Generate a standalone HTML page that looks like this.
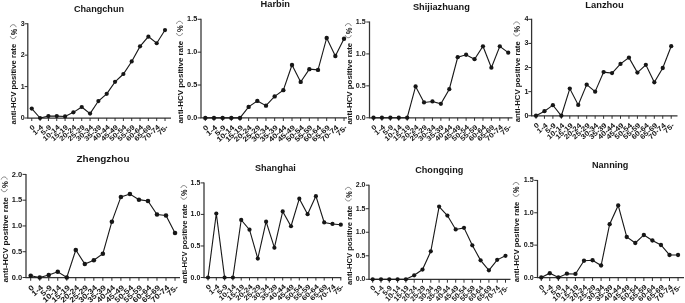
<!DOCTYPE html>
<html><head><meta charset="utf-8"><title>anti-HCV positive rate by city</title>
<style>
html,body{margin:0;padding:0;background:#fff;}
body{width:685px;height:303px;overflow:hidden;}
svg{display:block;will-change:transform;font-family:"Liberation Sans",sans-serif;font-weight:bold;fill:#161616;}

</style></head><body>
<svg width="685" height="303" viewBox="0 0 685 303">
<defs><filter id="b" x="0" y="0" width="685" height="303" filterUnits="userSpaceOnUse"><feGaussianBlur stdDeviation="0.3"/></filter></defs>
<rect width="685" height="303" fill="#fff"/>
<g filter="url(#b)">
<g><path d="M27.8 23.25V118H171" fill="none" stroke="#303030" stroke-width="1.25"/>
<path d="M24.6 118H27.8M24.6 86.58H27.8M24.6 55.17H27.8M24.6 23.75H27.8M31.75 118V121M40.08 118V121M48.41 118V121M56.74 118V121M65.07 118V121M73.4 118V121M81.73 118V121M90.06 118V121M98.39 118V121M106.72 118V121M115.05 118V121M123.38 118V121M131.71 118V121M140.04 118V121M148.37 118V121M156.7 118V121M165.03 118V121" fill="none" stroke="#303030" stroke-width="1"/>
<text transform="translate(24.7 120.02)" font-size="7" text-anchor="end">0</text>
<text transform="translate(24.7 88.6)" font-size="7" text-anchor="end">1</text>
<text transform="translate(24.7 57.19)" font-size="7" text-anchor="end">2</text>
<text transform="translate(24.7 25.77)" font-size="7" text-anchor="end">3</text>
<text transform="translate(35.25 127.9) rotate(-42) scale(1.17 1)" font-size="6.8" text-anchor="end" class="xl">0</text>
<text transform="translate(43.58 127.9) rotate(-42) scale(1.17 1)" font-size="6.8" text-anchor="end" class="xl">1-4</text>
<text transform="translate(51.91 127.9) rotate(-42) scale(1.17 1)" font-size="6.8" text-anchor="end" class="xl">5-9</text>
<text transform="translate(60.24 127.9) rotate(-42) scale(1.17 1)" font-size="6.8" text-anchor="end" class="xl">10-14</text>
<text transform="translate(68.57 127.9) rotate(-42) scale(1.17 1)" font-size="6.8" text-anchor="end" class="xl">15-19</text>
<text transform="translate(76.9 127.9) rotate(-42) scale(1.17 1)" font-size="6.8" text-anchor="end" class="xl">20-24</text>
<text transform="translate(85.23 127.9) rotate(-42) scale(1.17 1)" font-size="6.8" text-anchor="end" class="xl">25-29</text>
<text transform="translate(93.56 127.9) rotate(-42) scale(1.17 1)" font-size="6.8" text-anchor="end" class="xl">30-34</text>
<text transform="translate(101.89 127.9) rotate(-42) scale(1.17 1)" font-size="6.8" text-anchor="end" class="xl">35-39</text>
<text transform="translate(110.22 127.9) rotate(-42) scale(1.17 1)" font-size="6.8" text-anchor="end" class="xl">40-44</text>
<text transform="translate(118.55 127.9) rotate(-42) scale(1.17 1)" font-size="6.8" text-anchor="end" class="xl">45-49</text>
<text transform="translate(126.88 127.9) rotate(-42) scale(1.17 1)" font-size="6.8" text-anchor="end" class="xl">50-54</text>
<text transform="translate(135.21 127.9) rotate(-42) scale(1.17 1)" font-size="6.8" text-anchor="end" class="xl">55-59</text>
<text transform="translate(143.54 127.9) rotate(-42) scale(1.17 1)" font-size="6.8" text-anchor="end" class="xl">60-64</text>
<text transform="translate(151.87 127.9) rotate(-42) scale(1.17 1)" font-size="6.8" text-anchor="end" class="xl">65-69</text>
<text transform="translate(160.2 127.9) rotate(-42) scale(1.17 1)" font-size="6.8" text-anchor="end" class="xl">70-74</text>
<text transform="translate(168.53 127.9) rotate(-42) scale(1.17 1)" font-size="6.8" text-anchor="end" class="xl">75-</text>
<g transform="translate(16.4 124.4) rotate(-90)"><text transform="translate(0 0) scale(1.01 1)" font-size="7.7">anti-HCV positive rate</text><text transform="translate(89.18 0.2) scale(0.87 1)" font-size="8.47">%</text><path d="M88.25 -6.16C84.95 -5.24 84.95 -1.15 88.25 -0.23M97.25 -6.16C100.56 -5.24 100.56 -1.15 97.25 -0.23" fill="none" stroke="#555" stroke-width="0.7"/></g>
<text transform="translate(99 11.8) scale(0.94 1)" font-size="9.7" text-anchor="middle" class="tt">Changchun</text>
<polyline fill="none" stroke="#161616" stroke-width="1.1" points="31.75,108.58 40.08,118 48.41,116.11 56.74,116.11 65.07,116.43 73.4,112.34 81.73,107 90.06,113.6 98.39,101.03 106.72,93.81 115.05,81.87 123.38,74.02 131.71,61.45 140.04,46.37 148.37,36.63 156.7,43.23 165.03,30.03"/>
<g fill="#161616"><circle cx="31.75" cy="108.58" r="2.1"/><circle cx="40.08" cy="118" r="2.1"/><circle cx="48.41" cy="116.11" r="2.1"/><circle cx="56.74" cy="116.11" r="2.1"/><circle cx="65.07" cy="116.43" r="2.1"/><circle cx="73.4" cy="112.34" r="2.1"/><circle cx="81.73" cy="107" r="2.1"/><circle cx="90.06" cy="113.6" r="2.1"/><circle cx="98.39" cy="101.03" r="2.1"/><circle cx="106.72" cy="93.81" r="2.1"/><circle cx="115.05" cy="81.87" r="2.1"/><circle cx="123.38" cy="74.02" r="2.1"/><circle cx="131.71" cy="61.45" r="2.1"/><circle cx="140.04" cy="46.37" r="2.1"/><circle cx="148.37" cy="36.63" r="2.1"/><circle cx="156.7" cy="43.23" r="2.1"/><circle cx="165.03" cy="30.03" r="2.1"/></g></g>
<g><path d="M201 18.8V117.9H347" fill="none" stroke="#303030" stroke-width="1.25"/>
<path d="M197.67 117.9H201M197.67 85.03H201M197.67 52.17H201M197.67 19.3H201M205.3 117.9V121.02M213.97 117.9V121.02M222.64 117.9V121.02M231.31 117.9V121.02M239.98 117.9V121.02M248.65 117.9V121.02M257.32 117.9V121.02M265.99 117.9V121.02M274.66 117.9V121.02M283.33 117.9V121.02M292 117.9V121.02M300.67 117.9V121.02M309.34 117.9V121.02M318.01 117.9V121.02M326.68 117.9V121.02M335.35 117.9V121.02M344.02 117.9V121.02" fill="none" stroke="#303030" stroke-width="1"/>
<text transform="translate(197.2 120.02)" font-size="7.28" text-anchor="end">0.0</text>
<text transform="translate(197.2 87.15)" font-size="7.28" text-anchor="end">0.5</text>
<text transform="translate(197.2 54.29)" font-size="7.28" text-anchor="end">1.0</text>
<text transform="translate(197.2 21.42)" font-size="7.28" text-anchor="end">1.5</text>
<text transform="translate(208.94 128.2) rotate(-42) scale(1.17 1)" font-size="7.07" text-anchor="end" class="xl">0</text>
<text transform="translate(217.61 128.2) rotate(-42) scale(1.17 1)" font-size="7.07" text-anchor="end" class="xl">1-4</text>
<text transform="translate(226.28 128.2) rotate(-42) scale(1.17 1)" font-size="7.07" text-anchor="end" class="xl">5-9</text>
<text transform="translate(234.95 128.2) rotate(-42) scale(1.17 1)" font-size="7.07" text-anchor="end" class="xl">10-14</text>
<text transform="translate(243.62 128.2) rotate(-42) scale(1.17 1)" font-size="7.07" text-anchor="end" class="xl">15-19</text>
<text transform="translate(252.29 128.2) rotate(-42) scale(1.17 1)" font-size="7.07" text-anchor="end" class="xl">20-24</text>
<text transform="translate(260.96 128.2) rotate(-42) scale(1.17 1)" font-size="7.07" text-anchor="end" class="xl">25-29</text>
<text transform="translate(269.63 128.2) rotate(-42) scale(1.17 1)" font-size="7.07" text-anchor="end" class="xl">30-34</text>
<text transform="translate(278.3 128.2) rotate(-42) scale(1.17 1)" font-size="7.07" text-anchor="end" class="xl">35-39</text>
<text transform="translate(286.97 128.2) rotate(-42) scale(1.17 1)" font-size="7.07" text-anchor="end" class="xl">40-44</text>
<text transform="translate(295.64 128.2) rotate(-42) scale(1.17 1)" font-size="7.07" text-anchor="end" class="xl">45-49</text>
<text transform="translate(304.31 128.2) rotate(-42) scale(1.17 1)" font-size="7.07" text-anchor="end" class="xl">50-54</text>
<text transform="translate(312.98 128.2) rotate(-42) scale(1.17 1)" font-size="7.07" text-anchor="end" class="xl">55-59</text>
<text transform="translate(321.65 128.2) rotate(-42) scale(1.17 1)" font-size="7.07" text-anchor="end" class="xl">60-64</text>
<text transform="translate(330.32 128.2) rotate(-42) scale(1.17 1)" font-size="7.07" text-anchor="end" class="xl">65-69</text>
<text transform="translate(338.99 128.2) rotate(-42) scale(1.17 1)" font-size="7.07" text-anchor="end" class="xl">70-74</text>
<text transform="translate(347.66 128.2) rotate(-42) scale(1.17 1)" font-size="7.07" text-anchor="end" class="xl">75-</text>
<g transform="translate(182.8 123.6) rotate(-90)"><text transform="translate(0 0) scale(1.01 1)" font-size="7.9">anti-HCV positive rate</text><text transform="translate(91.5 0.2) scale(0.87 1)" font-size="8.69">%</text><path d="M90.54 -6.32C87.15 -5.37 87.15 -1.19 90.54 -0.24M99.78 -6.32C103.17 -5.37 103.17 -1.19 99.78 -0.24" fill="none" stroke="#555" stroke-width="0.7"/></g>
<text transform="translate(275.2 7.1)" font-size="9.25" text-anchor="middle" class="tt">Harbin</text>
<polyline fill="none" stroke="#161616" stroke-width="1.1" points="205.3,117.9 213.97,117.9 222.64,117.9 231.31,117.9 239.98,117.9 248.65,106.92 257.32,100.94 265.99,105.67 274.66,96.41 283.33,90.16 292,64.98 300.67,81.94 309.34,69.19 318.01,69.91 326.68,37.97 335.35,55.98 344.02,38.76"/>
<g fill="#161616"><circle cx="205.3" cy="117.9" r="2.184"/><circle cx="213.97" cy="117.9" r="2.184"/><circle cx="222.64" cy="117.9" r="2.184"/><circle cx="231.31" cy="117.9" r="2.184"/><circle cx="239.98" cy="117.9" r="2.184"/><circle cx="248.65" cy="106.92" r="2.184"/><circle cx="257.32" cy="100.94" r="2.184"/><circle cx="265.99" cy="105.67" r="2.184"/><circle cx="274.66" cy="96.41" r="2.184"/><circle cx="283.33" cy="90.16" r="2.184"/><circle cx="292" cy="64.98" r="2.184"/><circle cx="300.67" cy="81.94" r="2.184"/><circle cx="309.34" cy="69.19" r="2.184"/><circle cx="318.01" cy="69.91" r="2.184"/><circle cx="326.68" cy="37.97" r="2.184"/><circle cx="335.35" cy="55.98" r="2.184"/><circle cx="344.02" cy="38.76" r="2.184"/></g></g>
<g><path d="M369.5 21.5V117.75H512.5" fill="none" stroke="#303030" stroke-width="1.25"/>
<path d="M366.26 117.75H369.5M366.26 85.83H369.5M366.26 53.92H369.5M366.26 22H369.5M373.5 117.75V120.79M381.92 117.75V120.79M390.34 117.75V120.79M398.76 117.75V120.79M407.18 117.75V120.79M415.6 117.75V120.79M424.02 117.75V120.79M432.44 117.75V120.79M440.86 117.75V120.79M449.28 117.75V120.79M457.7 117.75V120.79M466.12 117.75V120.79M474.54 117.75V120.79M482.96 117.75V120.79M491.38 117.75V120.79M499.8 117.75V120.79M508.22 117.75V120.79" fill="none" stroke="#303030" stroke-width="1"/>
<text transform="translate(365.7 119.8)" font-size="7.09" text-anchor="end">0.0</text>
<text transform="translate(365.7 87.89)" font-size="7.09" text-anchor="end">0.5</text>
<text transform="translate(365.7 55.97)" font-size="7.09" text-anchor="end">1.0</text>
<text transform="translate(365.7 24.05)" font-size="7.09" text-anchor="end">1.5</text>
<text transform="translate(377.05 127.78) rotate(-42) scale(1.17 1)" font-size="6.89" text-anchor="end" class="xl">0</text>
<text transform="translate(385.47 127.78) rotate(-42) scale(1.17 1)" font-size="6.89" text-anchor="end" class="xl">1-4</text>
<text transform="translate(393.89 127.78) rotate(-42) scale(1.17 1)" font-size="6.89" text-anchor="end" class="xl">5-9</text>
<text transform="translate(402.31 127.78) rotate(-42) scale(1.17 1)" font-size="6.89" text-anchor="end" class="xl">10-14</text>
<text transform="translate(410.73 127.78) rotate(-42) scale(1.17 1)" font-size="6.89" text-anchor="end" class="xl">15-19</text>
<text transform="translate(419.15 127.78) rotate(-42) scale(1.17 1)" font-size="6.89" text-anchor="end" class="xl">20-24</text>
<text transform="translate(427.57 127.78) rotate(-42) scale(1.17 1)" font-size="6.89" text-anchor="end" class="xl">25-29</text>
<text transform="translate(435.99 127.78) rotate(-42) scale(1.17 1)" font-size="6.89" text-anchor="end" class="xl">30-34</text>
<text transform="translate(444.41 127.78) rotate(-42) scale(1.17 1)" font-size="6.89" text-anchor="end" class="xl">35-39</text>
<text transform="translate(452.83 127.78) rotate(-42) scale(1.17 1)" font-size="6.89" text-anchor="end" class="xl">40-44</text>
<text transform="translate(461.25 127.78) rotate(-42) scale(1.17 1)" font-size="6.89" text-anchor="end" class="xl">45-49</text>
<text transform="translate(469.67 127.78) rotate(-42) scale(1.17 1)" font-size="6.89" text-anchor="end" class="xl">50-54</text>
<text transform="translate(478.09 127.78) rotate(-42) scale(1.17 1)" font-size="6.89" text-anchor="end" class="xl">55-59</text>
<text transform="translate(486.51 127.78) rotate(-42) scale(1.17 1)" font-size="6.89" text-anchor="end" class="xl">60-64</text>
<text transform="translate(494.93 127.78) rotate(-42) scale(1.17 1)" font-size="6.89" text-anchor="end" class="xl">65-69</text>
<text transform="translate(503.35 127.78) rotate(-42) scale(1.17 1)" font-size="6.89" text-anchor="end" class="xl">70-74</text>
<text transform="translate(511.77 127.78) rotate(-42) scale(1.17 1)" font-size="6.89" text-anchor="end" class="xl">75-</text>
<g transform="translate(351.5 124.6) rotate(-90)"><text transform="translate(0 0) scale(1.01 1)" font-size="7.8">anti-HCV positive rate</text><text transform="translate(90.34 0.2) scale(0.87 1)" font-size="8.58">%</text><path d="M89.4 -6.24C86.05 -5.3 86.05 -1.17 89.4 -0.23M98.52 -6.24C101.86 -5.3 101.86 -1.17 98.52 -0.23" fill="none" stroke="#555" stroke-width="0.7"/></g>
<text transform="translate(441.4 10.1) scale(0.94 1)" font-size="9.83" text-anchor="middle" class="tt">Shijiazhuang</text>
<polyline fill="none" stroke="#161616" stroke-width="1.1" points="373.5,117.75 381.92,117.75 390.34,117.75 398.76,117.75 407.18,117.75 415.6,86.47 424.02,102.49 432.44,101.47 440.86,103.77 449.28,89.22 457.7,57.24 466.12,54.75 474.54,59.21 482.96,46.26 491.38,67.7 499.8,46.26 508.22,52.64"/>
<g fill="#161616"><circle cx="373.5" cy="117.75" r="2.1273"/><circle cx="381.92" cy="117.75" r="2.1273"/><circle cx="390.34" cy="117.75" r="2.1273"/><circle cx="398.76" cy="117.75" r="2.1273"/><circle cx="407.18" cy="117.75" r="2.1273"/><circle cx="415.6" cy="86.47" r="2.1273"/><circle cx="424.02" cy="102.49" r="2.1273"/><circle cx="432.44" cy="101.47" r="2.1273"/><circle cx="440.86" cy="103.77" r="2.1273"/><circle cx="449.28" cy="89.22" r="2.1273"/><circle cx="457.7" cy="57.24" r="2.1273"/><circle cx="466.12" cy="54.75" r="2.1273"/><circle cx="474.54" cy="59.21" r="2.1273"/><circle cx="482.96" cy="46.26" r="2.1273"/><circle cx="491.38" cy="67.7" r="2.1273"/><circle cx="499.8" cy="46.26" r="2.1273"/><circle cx="508.22" cy="52.64" r="2.1273"/></g></g>
<g><path d="M531.6 18.8V115.75H677.5" fill="none" stroke="#303030" stroke-width="1.25"/>
<path d="M528.34 115.75H531.6M528.34 91.64H531.6M528.34 67.53H531.6M528.34 43.41H531.6M528.34 19.3H531.6M536 115.75V118.81M544.45 115.75V118.81M552.9 115.75V118.81M561.35 115.75V118.81M569.8 115.75V118.81M578.25 115.75V118.81M586.7 115.75V118.81M595.15 115.75V118.81M603.6 115.75V118.81M612.05 115.75V118.81M620.5 115.75V118.81M628.95 115.75V118.81M637.4 115.75V118.81M645.85 115.75V118.81M654.3 115.75V118.81M662.75 115.75V118.81M671.2 115.75V118.81" fill="none" stroke="#303030" stroke-width="1"/>
<text transform="translate(528.4 117.82)" font-size="7.14" text-anchor="end">0</text>
<text transform="translate(528.4 93.71)" font-size="7.14" text-anchor="end">1</text>
<text transform="translate(528.4 69.6)" font-size="7.14" text-anchor="end">2</text>
<text transform="translate(528.4 45.48)" font-size="7.14" text-anchor="end">3</text>
<text transform="translate(528.4 21.37)" font-size="7.14" text-anchor="end">4</text>
<text transform="translate(539.57 125.85) rotate(-42) scale(1.17 1)" font-size="6.94" text-anchor="end" class="xl">0</text>
<text transform="translate(548.02 125.85) rotate(-42) scale(1.17 1)" font-size="6.94" text-anchor="end" class="xl">1-4</text>
<text transform="translate(556.47 125.85) rotate(-42) scale(1.17 1)" font-size="6.94" text-anchor="end" class="xl">5-9</text>
<text transform="translate(564.92 125.85) rotate(-42) scale(1.17 1)" font-size="6.94" text-anchor="end" class="xl">10-14</text>
<text transform="translate(573.37 125.85) rotate(-42) scale(1.17 1)" font-size="6.94" text-anchor="end" class="xl">15-19</text>
<text transform="translate(581.82 125.85) rotate(-42) scale(1.17 1)" font-size="6.94" text-anchor="end" class="xl">20-24</text>
<text transform="translate(590.27 125.85) rotate(-42) scale(1.17 1)" font-size="6.94" text-anchor="end" class="xl">25-29</text>
<text transform="translate(598.72 125.85) rotate(-42) scale(1.17 1)" font-size="6.94" text-anchor="end" class="xl">30-34</text>
<text transform="translate(607.17 125.85) rotate(-42) scale(1.17 1)" font-size="6.94" text-anchor="end" class="xl">35-39</text>
<text transform="translate(615.62 125.85) rotate(-42) scale(1.17 1)" font-size="6.94" text-anchor="end" class="xl">40-44</text>
<text transform="translate(624.07 125.85) rotate(-42) scale(1.17 1)" font-size="6.94" text-anchor="end" class="xl">45-49</text>
<text transform="translate(632.52 125.85) rotate(-42) scale(1.17 1)" font-size="6.94" text-anchor="end" class="xl">50-54</text>
<text transform="translate(640.97 125.85) rotate(-42) scale(1.17 1)" font-size="6.94" text-anchor="end" class="xl">55-59</text>
<text transform="translate(649.42 125.85) rotate(-42) scale(1.17 1)" font-size="6.94" text-anchor="end" class="xl">60-64</text>
<text transform="translate(657.87 125.85) rotate(-42) scale(1.17 1)" font-size="6.94" text-anchor="end" class="xl">65-69</text>
<text transform="translate(666.32 125.85) rotate(-42) scale(1.17 1)" font-size="6.94" text-anchor="end" class="xl">70-74</text>
<text transform="translate(674.77 125.85) rotate(-42) scale(1.17 1)" font-size="6.94" text-anchor="end" class="xl">75-</text>
<g transform="translate(519.8 122.3) rotate(-90)"><text transform="translate(0 0) scale(1.01 1)" font-size="7.75">anti-HCV positive rate</text><text transform="translate(89.76 0.2) scale(0.87 1)" font-size="8.53">%</text><path d="M88.82 -6.2C85.5 -5.27 85.5 -1.16 88.82 -0.23M97.88 -6.2C101.21 -5.27 101.21 -1.16 97.88 -0.23" fill="none" stroke="#555" stroke-width="0.7"/></g>
<text transform="translate(604.5 7.6) scale(0.95 1)" font-size="9.89" text-anchor="middle" class="tt">Lanzhou</text>
<polyline fill="none" stroke="#161616" stroke-width="1.1" points="536,115.75 544.45,111.17 552.9,105.14 561.35,115.75 569.8,88.62 578.25,104.9 586.7,84.64 595.15,91.64 603.6,72.11 612.05,73.07 620.5,63.91 628.95,57.64 637.4,72.59 645.85,64.87 654.3,82.35 662.75,68.01 671.2,46.19"/>
<g fill="#161616"><circle cx="536" cy="115.75" r="2.1420000000000003"/><circle cx="544.45" cy="111.17" r="2.1420000000000003"/><circle cx="552.9" cy="105.14" r="2.1420000000000003"/><circle cx="561.35" cy="115.75" r="2.1420000000000003"/><circle cx="569.8" cy="88.62" r="2.1420000000000003"/><circle cx="578.25" cy="104.9" r="2.1420000000000003"/><circle cx="586.7" cy="84.64" r="2.1420000000000003"/><circle cx="595.15" cy="91.64" r="2.1420000000000003"/><circle cx="603.6" cy="72.11" r="2.1420000000000003"/><circle cx="612.05" cy="73.07" r="2.1420000000000003"/><circle cx="620.5" cy="63.91" r="2.1420000000000003"/><circle cx="628.95" cy="57.64" r="2.1420000000000003"/><circle cx="637.4" cy="72.59" r="2.1420000000000003"/><circle cx="645.85" cy="64.87" r="2.1420000000000003"/><circle cx="654.3" cy="82.35" r="2.1420000000000003"/><circle cx="662.75" cy="68.01" r="2.1420000000000003"/><circle cx="671.2" cy="46.19" r="2.1420000000000003"/></g></g>
<g><path d="M26 173.9V277.5H180" fill="none" stroke="#303030" stroke-width="1.25"/>
<path d="M22.53 277.5H26M22.53 251.72H26M22.53 225.95H26M22.53 200.18H26M22.53 174.4H26M30.7 277.5V280.75M39.72 277.5V280.75M48.74 277.5V280.75M57.76 277.5V280.75M66.78 277.5V280.75M75.8 277.5V280.75M84.82 277.5V280.75M93.84 277.5V280.75M102.86 277.5V280.75M111.88 277.5V280.75M120.9 277.5V280.75M129.92 277.5V280.75M138.94 277.5V280.75M147.96 277.5V280.75M156.98 277.5V280.75M166 277.5V280.75M175.02 277.5V280.75" fill="none" stroke="#303030" stroke-width="1"/>
<text transform="translate(22.2 279.7)" font-size="7.5" text-anchor="end">0.0</text>
<text transform="translate(22.2 253.92)" font-size="7.5" text-anchor="end">0.5</text>
<text transform="translate(22.2 228.15)" font-size="7.5" text-anchor="end">1.0</text>
<text transform="translate(22.2 202.38)" font-size="7.5" text-anchor="end">1.5</text>
<text transform="translate(22.2 176.6)" font-size="7.5" text-anchor="end">2.0</text>
<text transform="translate(34.5 288.24) rotate(-42) scale(1.17 1)" font-size="7.38" text-anchor="end" class="xl">0</text>
<text transform="translate(43.52 288.24) rotate(-42) scale(1.17 1)" font-size="7.38" text-anchor="end" class="xl">1-4</text>
<text transform="translate(52.54 288.24) rotate(-42) scale(1.17 1)" font-size="7.38" text-anchor="end" class="xl">5-9</text>
<text transform="translate(61.56 288.24) rotate(-42) scale(1.17 1)" font-size="7.38" text-anchor="end" class="xl">10-14</text>
<text transform="translate(70.58 288.24) rotate(-42) scale(1.17 1)" font-size="7.38" text-anchor="end" class="xl">15-19</text>
<text transform="translate(79.6 288.24) rotate(-42) scale(1.17 1)" font-size="7.38" text-anchor="end" class="xl">20-24</text>
<text transform="translate(88.62 288.24) rotate(-42) scale(1.17 1)" font-size="7.38" text-anchor="end" class="xl">25-29</text>
<text transform="translate(97.64 288.24) rotate(-42) scale(1.17 1)" font-size="7.38" text-anchor="end" class="xl">30-34</text>
<text transform="translate(106.66 288.24) rotate(-42) scale(1.17 1)" font-size="7.38" text-anchor="end" class="xl">35-39</text>
<text transform="translate(115.68 288.24) rotate(-42) scale(1.17 1)" font-size="7.38" text-anchor="end" class="xl">40-44</text>
<text transform="translate(124.7 288.24) rotate(-42) scale(1.17 1)" font-size="7.38" text-anchor="end" class="xl">45-49</text>
<text transform="translate(133.72 288.24) rotate(-42) scale(1.17 1)" font-size="7.38" text-anchor="end" class="xl">50-54</text>
<text transform="translate(142.74 288.24) rotate(-42) scale(1.17 1)" font-size="7.38" text-anchor="end" class="xl">55-59</text>
<text transform="translate(151.76 288.24) rotate(-42) scale(1.17 1)" font-size="7.38" text-anchor="end" class="xl">60-64</text>
<text transform="translate(160.78 288.24) rotate(-42) scale(1.17 1)" font-size="7.38" text-anchor="end" class="xl">65-69</text>
<text transform="translate(169.8 288.24) rotate(-42) scale(1.17 1)" font-size="7.38" text-anchor="end" class="xl">70-74</text>
<text transform="translate(178.82 288.24) rotate(-42) scale(1.17 1)" font-size="7.38" text-anchor="end" class="xl">75-</text>
<g transform="translate(7.5 282.5) rotate(-90)"><text transform="translate(0 0) scale(1.04 1)" font-size="7.9">anti-HCV positive rate</text><text transform="translate(94.4 0.2) scale(0.89 1)" font-size="8.69">%</text><path d="M93.42 -6.32C89.92 -5.37 89.92 -1.19 93.42 -0.24M102.95 -6.32C106.44 -5.37 106.44 -1.19 102.95 -0.24" fill="none" stroke="#555" stroke-width="0.7"/></g>
<text transform="translate(103 161.5) scale(1.07 1)" font-size="9.3" text-anchor="middle" class="tt">Zhengzhou</text>
<polyline fill="none" stroke="#161616" stroke-width="1.1" points="30.7,275.75 39.72,277.5 48.74,274.92 57.76,271.83 66.78,277.5 75.8,249.97 84.82,263.99 93.84,260.23 102.86,253.74 111.88,221.67 120.9,196.93 129.92,193.99 138.94,199.66 147.96,200.95 156.98,214.45 166,215.43 175.02,232.96"/>
<g fill="#161616"><circle cx="30.7" cy="275.75" r="2.2785"/><circle cx="39.72" cy="277.5" r="2.2785"/><circle cx="48.74" cy="274.92" r="2.2785"/><circle cx="57.76" cy="271.83" r="2.2785"/><circle cx="66.78" cy="277.5" r="2.2785"/><circle cx="75.8" cy="249.97" r="2.2785"/><circle cx="84.82" cy="263.99" r="2.2785"/><circle cx="93.84" cy="260.23" r="2.2785"/><circle cx="102.86" cy="253.74" r="2.2785"/><circle cx="111.88" cy="221.67" r="2.2785"/><circle cx="120.9" cy="196.93" r="2.2785"/><circle cx="129.92" cy="193.99" r="2.2785"/><circle cx="138.94" cy="199.66" r="2.2785"/><circle cx="147.96" cy="200.95" r="2.2785"/><circle cx="156.98" cy="214.45" r="2.2785"/><circle cx="166" cy="215.43" r="2.2785"/><circle cx="175.02" cy="232.96" r="2.2785"/></g></g>
<g><path d="M204 182.4V277.5H341.25" fill="none" stroke="#303030" stroke-width="1.25"/>
<path d="M200.8 277.5H204M200.8 245.97H204M200.8 214.43H204M200.8 182.9H204M208 277.5V280.5M216.3 277.5V280.5M224.6 277.5V280.5M232.9 277.5V280.5M241.2 277.5V280.5M249.5 277.5V280.5M257.8 277.5V280.5M266.1 277.5V280.5M274.4 277.5V280.5M282.7 277.5V280.5M291 277.5V280.5M299.3 277.5V280.5M307.6 277.5V280.5M315.9 277.5V280.5M324.2 277.5V280.5M332.5 277.5V280.5M340.8 277.5V280.5" fill="none" stroke="#303030" stroke-width="1"/>
<text transform="translate(200.3 279.52)" font-size="7" text-anchor="end">0.0</text>
<text transform="translate(200.3 247.99)" font-size="7" text-anchor="end">0.5</text>
<text transform="translate(200.3 216.45)" font-size="7" text-anchor="end">1.0</text>
<text transform="translate(200.3 184.92)" font-size="7" text-anchor="end">1.5</text>
<text transform="translate(211.5 287.4) rotate(-42) scale(1.17 1)" font-size="6.8" text-anchor="end" class="xl">0</text>
<text transform="translate(219.8 287.4) rotate(-42) scale(1.17 1)" font-size="6.8" text-anchor="end" class="xl">1-4</text>
<text transform="translate(228.1 287.4) rotate(-42) scale(1.17 1)" font-size="6.8" text-anchor="end" class="xl">5-9</text>
<text transform="translate(236.4 287.4) rotate(-42) scale(1.17 1)" font-size="6.8" text-anchor="end" class="xl">10-14</text>
<text transform="translate(244.7 287.4) rotate(-42) scale(1.17 1)" font-size="6.8" text-anchor="end" class="xl">15-19</text>
<text transform="translate(253 287.4) rotate(-42) scale(1.17 1)" font-size="6.8" text-anchor="end" class="xl">20-24</text>
<text transform="translate(261.3 287.4) rotate(-42) scale(1.17 1)" font-size="6.8" text-anchor="end" class="xl">25-29</text>
<text transform="translate(269.6 287.4) rotate(-42) scale(1.17 1)" font-size="6.8" text-anchor="end" class="xl">30-34</text>
<text transform="translate(277.9 287.4) rotate(-42) scale(1.17 1)" font-size="6.8" text-anchor="end" class="xl">35-39</text>
<text transform="translate(286.2 287.4) rotate(-42) scale(1.17 1)" font-size="6.8" text-anchor="end" class="xl">40-44</text>
<text transform="translate(294.5 287.4) rotate(-42) scale(1.17 1)" font-size="6.8" text-anchor="end" class="xl">45-49</text>
<text transform="translate(302.8 287.4) rotate(-42) scale(1.17 1)" font-size="6.8" text-anchor="end" class="xl">50-54</text>
<text transform="translate(311.1 287.4) rotate(-42) scale(1.17 1)" font-size="6.8" text-anchor="end" class="xl">55-59</text>
<text transform="translate(319.4 287.4) rotate(-42) scale(1.17 1)" font-size="6.8" text-anchor="end" class="xl">60-64</text>
<text transform="translate(327.7 287.4) rotate(-42) scale(1.17 1)" font-size="6.8" text-anchor="end" class="xl">65-69</text>
<text transform="translate(336 287.4) rotate(-42) scale(1.17 1)" font-size="6.8" text-anchor="end" class="xl">70-74</text>
<text transform="translate(344.3 287.4) rotate(-42) scale(1.17 1)" font-size="6.8" text-anchor="end" class="xl">75-</text>
<g transform="translate(187 283.5) rotate(-90)"><text transform="translate(0 0) scale(0.99 1)" font-size="7.7">anti-HCV positive rate</text><text transform="translate(87.59 0.2) scale(0.85 1)" font-size="8.47">%</text><path d="M86.67 -6.16C83.43 -5.24 83.43 -1.15 86.67 -0.23M95.52 -6.16C98.76 -5.24 98.76 -1.15 95.52 -0.23" fill="none" stroke="#555" stroke-width="0.7"/></g>
<text transform="translate(275.4 171) scale(0.94 1)" font-size="9.7" text-anchor="middle" class="tt">Shanghai</text>
<polyline fill="none" stroke="#161616" stroke-width="1.1" points="208,277.5 216.3,213.49 224.6,277.5 232.9,277.5 241.2,219.92 249.5,229.7 257.8,258.58 266.1,221.69 274.4,247.73 282.7,211.41 291,226.23 299.3,198.67 307.6,214.18 315.9,196.14 324.2,222.44 332.5,223.96 340.8,224.71"/>
<g fill="#161616"><circle cx="208" cy="277.5" r="2.1"/><circle cx="216.3" cy="213.49" r="2.1"/><circle cx="224.6" cy="277.5" r="2.1"/><circle cx="232.9" cy="277.5" r="2.1"/><circle cx="241.2" cy="219.92" r="2.1"/><circle cx="249.5" cy="229.7" r="2.1"/><circle cx="257.8" cy="258.58" r="2.1"/><circle cx="266.1" cy="221.69" r="2.1"/><circle cx="274.4" cy="247.73" r="2.1"/><circle cx="282.7" cy="211.41" r="2.1"/><circle cx="291" cy="226.23" r="2.1"/><circle cx="299.3" cy="198.67" r="2.1"/><circle cx="307.6" cy="214.18" r="2.1"/><circle cx="315.9" cy="196.14" r="2.1"/><circle cx="324.2" cy="222.44" r="2.1"/><circle cx="332.5" cy="223.96" r="2.1"/><circle cx="340.8" cy="224.71" r="2.1"/></g></g>
<g><path d="M369 184.7V279.3H510.5" fill="none" stroke="#303030" stroke-width="1.25"/>
<path d="M365.8 279.3H369M365.8 255.78H369M365.8 232.25H369M365.8 208.72H369M365.8 185.2H369M372.7 279.3V282.7M381 279.3V282.7M389.3 279.3V282.7M397.6 279.3V282.7M405.9 279.3V282.7M414.2 279.3V282.7M422.5 279.3V282.7M430.8 279.3V282.7M439.1 279.3V282.7M447.4 279.3V282.7M455.7 279.3V282.7M464 279.3V282.7M472.3 279.3V282.7M480.6 279.3V282.7M488.9 279.3V282.7M497.2 279.3V282.7M505.5 279.3V282.7" fill="none" stroke="#303030" stroke-width="1"/>
<text transform="translate(365.5 281.32)" font-size="7" text-anchor="end">0.0</text>
<text transform="translate(365.5 257.8)" font-size="7" text-anchor="end">0.5</text>
<text transform="translate(365.5 234.27)" font-size="7" text-anchor="end">1.0</text>
<text transform="translate(365.5 210.75)" font-size="7" text-anchor="end">1.5</text>
<text transform="translate(365.5 187.22)" font-size="7" text-anchor="end">2.0</text>
<text transform="translate(376 288.3) rotate(-47)" font-size="7.2" text-anchor="end" class="xl">0</text>
<text transform="translate(384.3 288.3) rotate(-47)" font-size="7.2" text-anchor="end" class="xl">1-4</text>
<text transform="translate(392.6 288.3) rotate(-47)" font-size="7.2" text-anchor="end" class="xl">5-9</text>
<text transform="translate(400.9 288.3) rotate(-47)" font-size="7.2" text-anchor="end" class="xl">10-14</text>
<text transform="translate(409.2 288.3) rotate(-47)" font-size="7.2" text-anchor="end" class="xl">15-19</text>
<text transform="translate(417.5 288.3) rotate(-47)" font-size="7.2" text-anchor="end" class="xl">20-24</text>
<text transform="translate(425.8 288.3) rotate(-47)" font-size="7.2" text-anchor="end" class="xl">25-29</text>
<text transform="translate(434.1 288.3) rotate(-47)" font-size="7.2" text-anchor="end" class="xl">30-34</text>
<text transform="translate(442.4 288.3) rotate(-47)" font-size="7.2" text-anchor="end" class="xl">35-39</text>
<text transform="translate(450.7 288.3) rotate(-47)" font-size="7.2" text-anchor="end" class="xl">40-44</text>
<text transform="translate(459 288.3) rotate(-47)" font-size="7.2" text-anchor="end" class="xl">45-49</text>
<text transform="translate(467.3 288.3) rotate(-47)" font-size="7.2" text-anchor="end" class="xl">50-54</text>
<text transform="translate(475.6 288.3) rotate(-47)" font-size="7.2" text-anchor="end" class="xl">55-59</text>
<text transform="translate(483.9 288.3) rotate(-47)" font-size="7.2" text-anchor="end" class="xl">60-64</text>
<text transform="translate(492.2 288.3) rotate(-47)" font-size="7.2" text-anchor="end" class="xl">65-69</text>
<text transform="translate(500.5 288.3) rotate(-47)" font-size="7.2" text-anchor="end" class="xl">70-74</text>
<text transform="translate(508.8 288.3) rotate(-47)" font-size="7.2" text-anchor="end" class="xl">75-</text>
<g transform="translate(351.5 285) rotate(-90)"><text transform="translate(0 0) scale(0.99 1)" font-size="7.7">anti-HCV positive rate</text><text transform="translate(87.32 0.2) scale(0.85 1)" font-size="8.47">%</text><path d="M86.41 -6.16C83.18 -5.24 83.18 -1.15 86.41 -0.23M95.23 -6.16C98.46 -5.24 98.46 -1.15 95.23 -0.23" fill="none" stroke="#555" stroke-width="0.7"/></g>
<text transform="translate(439.25 173.4) scale(0.94 1)" font-size="9.7" text-anchor="middle" class="tt">Chongqing</text>
<polyline fill="none" stroke="#161616" stroke-width="1.1" points="372.7,279.3 381,279.3 389.3,279.3 397.6,279.3 405.9,279.3 414.2,275.3 422.5,269.56 430.8,251.35 439.1,206.61 447.4,215.59 455.7,229.43 464,227.87 472.3,245.33 480.6,260.34 488.9,270.31 497.2,259.82 505.5,255.78"/>
<g fill="#161616"><circle cx="372.7" cy="279.3" r="2.1"/><circle cx="381" cy="279.3" r="2.1"/><circle cx="389.3" cy="279.3" r="2.1"/><circle cx="397.6" cy="279.3" r="2.1"/><circle cx="405.9" cy="279.3" r="2.1"/><circle cx="414.2" cy="275.3" r="2.1"/><circle cx="422.5" cy="269.56" r="2.1"/><circle cx="430.8" cy="251.35" r="2.1"/><circle cx="439.1" cy="206.61" r="2.1"/><circle cx="447.4" cy="215.59" r="2.1"/><circle cx="455.7" cy="229.43" r="2.1"/><circle cx="464" cy="227.87" r="2.1"/><circle cx="472.3" cy="245.33" r="2.1"/><circle cx="480.6" cy="260.34" r="2.1"/><circle cx="488.9" cy="270.31" r="2.1"/><circle cx="497.2" cy="259.82" r="2.1"/><circle cx="505.5" cy="255.78" r="2.1"/></g></g>
<g><path d="M537.5 179.9V277.5H684" fill="none" stroke="#303030" stroke-width="1.25"/>
<path d="M534.21 277.5H537.5M534.21 245.13H537.5M534.21 212.77H537.5M534.21 180.4H537.5M541.25 277.5V281M549.8 277.5V281M558.35 277.5V281M566.9 277.5V281M575.45 277.5V281M584 277.5V281M592.55 277.5V281M601.1 277.5V281M609.65 277.5V281M618.2 277.5V281M626.75 277.5V281M635.3 277.5V281M643.85 277.5V281M652.4 277.5V281M660.95 277.5V281M669.5 277.5V281M678.05 277.5V281" fill="none" stroke="#303030" stroke-width="1"/>
<text transform="translate(533.7 279.59)" font-size="7.2" text-anchor="end">0.0</text>
<text transform="translate(533.7 247.22)" font-size="7.2" text-anchor="end">0.5</text>
<text transform="translate(533.7 214.86)" font-size="7.2" text-anchor="end">1.0</text>
<text transform="translate(533.7 182.49)" font-size="7.2" text-anchor="end">1.5</text>
<text transform="translate(544.85 287.68) rotate(-42) scale(1.17 1)" font-size="6.99" text-anchor="end" class="xl">0</text>
<text transform="translate(553.4 287.68) rotate(-42) scale(1.17 1)" font-size="6.99" text-anchor="end" class="xl">1-4</text>
<text transform="translate(561.95 287.68) rotate(-42) scale(1.17 1)" font-size="6.99" text-anchor="end" class="xl">5-9</text>
<text transform="translate(570.5 287.68) rotate(-42) scale(1.17 1)" font-size="6.99" text-anchor="end" class="xl">10-14</text>
<text transform="translate(579.05 287.68) rotate(-42) scale(1.17 1)" font-size="6.99" text-anchor="end" class="xl">15-19</text>
<text transform="translate(587.6 287.68) rotate(-42) scale(1.17 1)" font-size="6.99" text-anchor="end" class="xl">20-24</text>
<text transform="translate(596.15 287.68) rotate(-42) scale(1.17 1)" font-size="6.99" text-anchor="end" class="xl">25-29</text>
<text transform="translate(604.7 287.68) rotate(-42) scale(1.17 1)" font-size="6.99" text-anchor="end" class="xl">30-34</text>
<text transform="translate(613.25 287.68) rotate(-42) scale(1.17 1)" font-size="6.99" text-anchor="end" class="xl">35-39</text>
<text transform="translate(621.8 287.68) rotate(-42) scale(1.17 1)" font-size="6.99" text-anchor="end" class="xl">40-44</text>
<text transform="translate(630.35 287.68) rotate(-42) scale(1.17 1)" font-size="6.99" text-anchor="end" class="xl">45-49</text>
<text transform="translate(638.9 287.68) rotate(-42) scale(1.17 1)" font-size="6.99" text-anchor="end" class="xl">50-54</text>
<text transform="translate(647.45 287.68) rotate(-42) scale(1.17 1)" font-size="6.99" text-anchor="end" class="xl">55-59</text>
<text transform="translate(656 287.68) rotate(-42) scale(1.17 1)" font-size="6.99" text-anchor="end" class="xl">60-64</text>
<text transform="translate(664.55 287.68) rotate(-42) scale(1.17 1)" font-size="6.99" text-anchor="end" class="xl">65-69</text>
<text transform="translate(673.1 287.68) rotate(-42) scale(1.17 1)" font-size="6.99" text-anchor="end" class="xl">70-74</text>
<text transform="translate(681.65 287.68) rotate(-42) scale(1.17 1)" font-size="6.99" text-anchor="end" class="xl">75-</text>
<g transform="translate(519.2 282.2) rotate(-90)"><text transform="translate(0 0) scale(1.01 1)" font-size="7.7">anti-HCV positive rate</text><text transform="translate(89.18 0.2) scale(0.87 1)" font-size="8.47">%</text><path d="M88.25 -6.16C84.95 -5.24 84.95 -1.15 88.25 -0.23M97.25 -6.16C100.56 -5.24 100.56 -1.15 97.25 -0.23" fill="none" stroke="#555" stroke-width="0.7"/></g>
<text transform="translate(610.2 167.7) scale(0.94 1)" font-size="9.7" text-anchor="middle" class="tt">Nanning</text>
<polyline fill="none" stroke="#161616" stroke-width="1.1" points="541.25,277.5 549.8,273.23 558.35,277.5 566.9,273.68 575.45,273.94 584,260.73 592.55,260.22 601.1,265.52 609.65,224.22 618.2,205.45 626.75,236.98 635.3,243 643.85,234.97 652.4,240.47 660.95,245 669.5,254.97 678.05,254.97"/>
<g fill="#161616"><circle cx="541.25" cy="277.5" r="2.1588000000000003"/><circle cx="549.8" cy="273.23" r="2.1588000000000003"/><circle cx="558.35" cy="277.5" r="2.1588000000000003"/><circle cx="566.9" cy="273.68" r="2.1588000000000003"/><circle cx="575.45" cy="273.94" r="2.1588000000000003"/><circle cx="584" cy="260.73" r="2.1588000000000003"/><circle cx="592.55" cy="260.22" r="2.1588000000000003"/><circle cx="601.1" cy="265.52" r="2.1588000000000003"/><circle cx="609.65" cy="224.22" r="2.1588000000000003"/><circle cx="618.2" cy="205.45" r="2.1588000000000003"/><circle cx="626.75" cy="236.98" r="2.1588000000000003"/><circle cx="635.3" cy="243" r="2.1588000000000003"/><circle cx="643.85" cy="234.97" r="2.1588000000000003"/><circle cx="652.4" cy="240.47" r="2.1588000000000003"/><circle cx="660.95" cy="245" r="2.1588000000000003"/><circle cx="669.5" cy="254.97" r="2.1588000000000003"/><circle cx="678.05" cy="254.97" r="2.1588000000000003"/></g></g>
</g>
</svg>
</body></html>
